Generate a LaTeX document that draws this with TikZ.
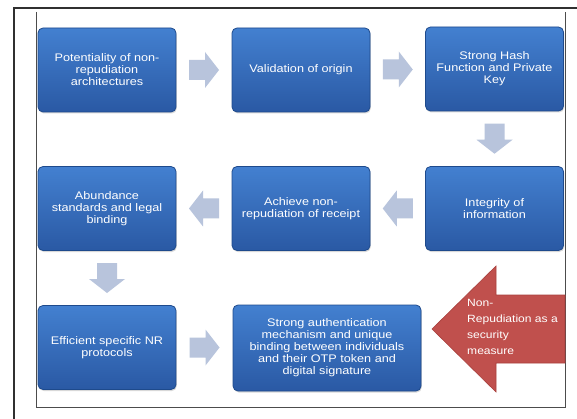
\documentclass[tikz,border=0pt]{standalone}
\usepackage{fontspec}
\setmainfont{Liberation Sans}
\newfontfamily\boxfont[FakeStretch=1.15]{Liberation Sans}
\usetikzlibrary{shadows,calc}
\definecolor{boxtop}{HTML}{4380D0}
\definecolor{boxbot}{HTML}{2A59A4}
\definecolor{boxedge}{HTML}{1E4A8C}
\definecolor{arr}{HTML}{B8C4DC}
\definecolor{redarr}{HTML}{C0504D}
\definecolor{rededge}{HTML}{A8403D}
\definecolor{framec}{HTML}{303030}
\begin{document}
\begin{tikzpicture}[x=1pt,y=-1pt,
  box/.style={rectangle, rounded corners=5pt, draw=boxedge, line width=0.8pt,
    top color=boxtop, bottom color=boxbot, minimum width=138pt, minimum height=84pt,
    text=white, align=center, font=\boxfont\fontsize{11}{12}\selectfont, inner sep=2pt,
    drop shadow={opacity=0.3, shadow xshift=0.8pt, shadow yshift=-1.5pt}},
  blockarrow/.pic={\fill[arr] (-15,-10) -- (1,-10) -- (1,-18) -- (15,0) -- (1,18) -- (1,10) -- (-15,10) -- cycle;}
]
\useasboundingbox (0,0) rectangle (577,419);
\fill[white] (0,0) rectangle (577,419);
% frames
\draw[framec, line width=2pt] (577,8) -- (14,8) -- (14,419);
\draw[gray!60!black, line width=0.7pt] (36,12) -- (36,407) -- (565,407) -- (565,12);
% boxes
\node[box] (b1) at (107,70) {Potentiality of non-\\repudiation\\architectures};
\node[box] (b2) at (301,70) {Validation of origin};
\node[box] (b3) at (494.5,69) {Strong Hash\\Function and Private\\Key};
\node[box] (b6) at (494.5,208.5) {Integrity of\\information};
\node[box] (b5) at (301,208.5) {Achieve non-\\repudiation of receipt};
\node[box] (b4) at (107,208.5) {Abundance\\standards and legal\\binding};
\node[box] (b7) at (107,347.5) {Efficient specific NR\\protocols};
\node[box, minimum width=188pt, minimum height=86pt] (b8) at (327,348)
  {Strong authentication\\mechanism and unique\\binding between individuals\\and their OTP token and\\digital signature};
% block arrows
\pic at ($(b1.east)!0.5!(b2.west)$) {blockarrow};
\pic at ($(b2.east)!0.5!(b3.west)$) {blockarrow};
\pic[rotate=-90] at ($(b3.south)!0.5!(b6.north)$) {blockarrow};
\pic[rotate=180] at ($(b6.west)!0.5!(b5.east)$) {blockarrow};
\pic[rotate=180] at ($(b5.west)!0.5!(b4.east)$) {blockarrow};
\pic[rotate=-90] at ($(b4.south)!0.5!(b7.north)$) {blockarrow};
\pic at ($(b7.east)!0.5!(b8.west |- b7.east)$) {blockarrow};
% red arrow
\filldraw[fill=redarr, draw=rededge, line width=0.6pt]
  (432,329) -- (496,266) -- (496,295) -- (565,295) -- (565,363) -- (496,363) -- (496,392) -- cycle;
\node[anchor=north west, align=left, text=white, inner sep=0pt,
  font=\boxfont\fontsize{10.5}{16}\selectfont] (redlbl) at (467,299)
  {Non-\\Repudiation as a\\security\\measure};
\end{tikzpicture}
\end{document}
